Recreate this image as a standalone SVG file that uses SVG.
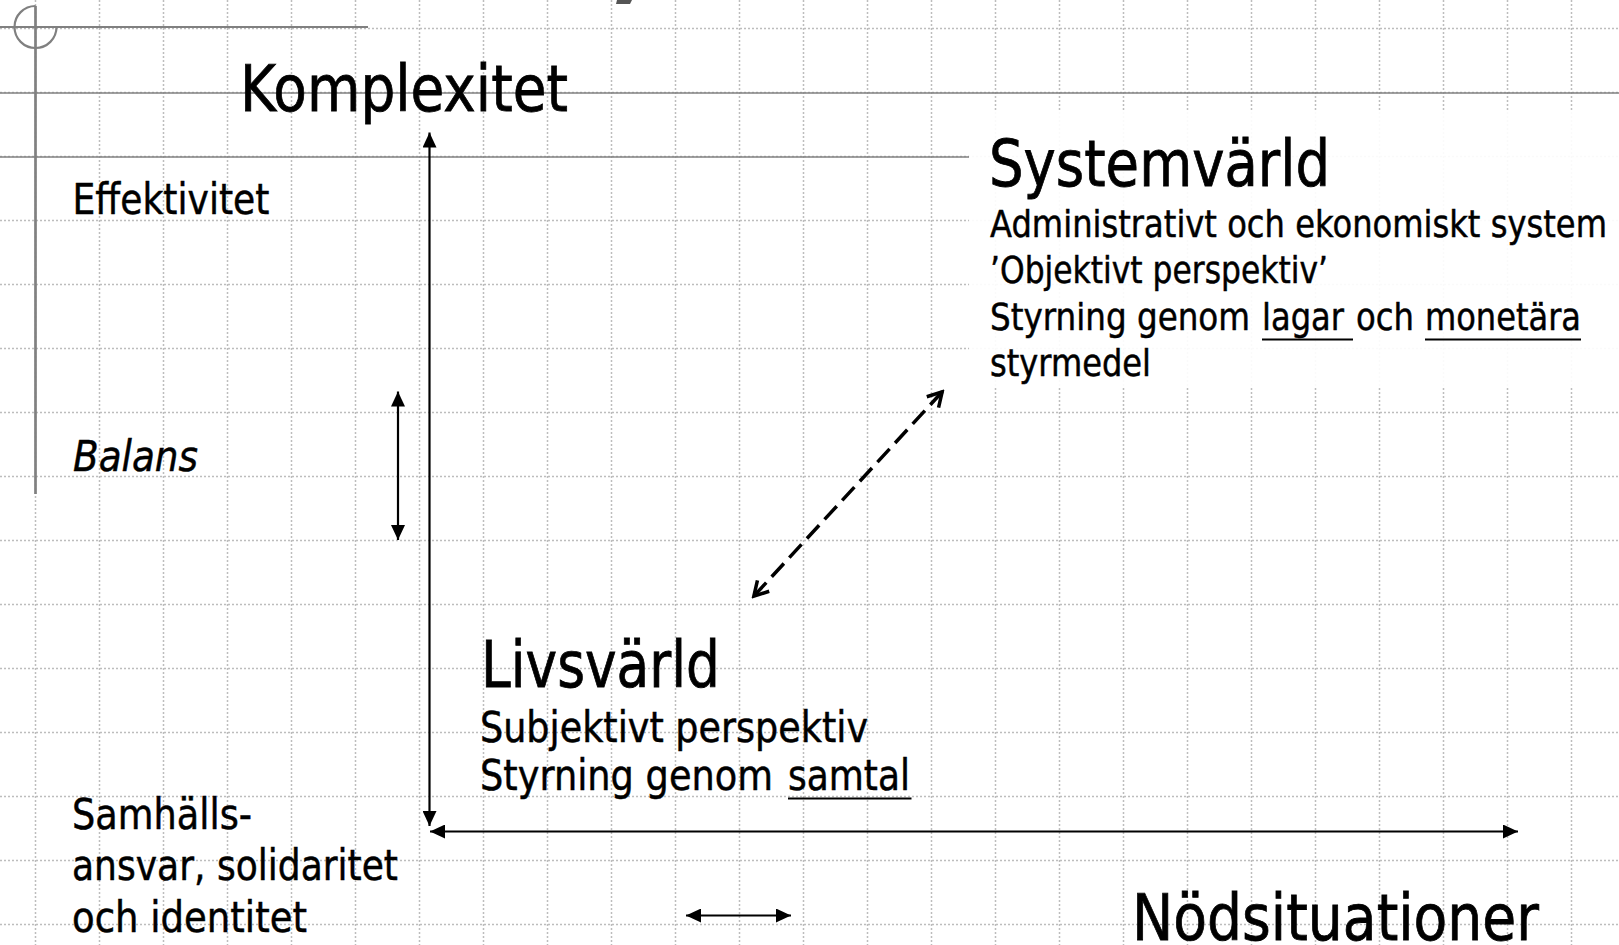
<svg xmlns="http://www.w3.org/2000/svg" width="1619" height="945" viewBox="0 0 1619 945">
<style>
  text { font-family: "DejaVu Sans", Verdana, sans-serif; fill: #000; stroke: #000; stroke-width: 0.5; }
  .t64 { font-size: 64px; stroke-width: 0.8; }
  .t43 { font-size: 42.7px; }
  .t42 { font-size: 42px; }
  .t37 { font-size: 37.3px; }
  .grid { fill: none; stroke: #bdbdbd; stroke-width: 1.5; stroke-dasharray: 2 2; }
  .tmpl { fill: none; stroke: #808080; }
  .arr { fill: none; stroke: #000; stroke-width: 2.2; }
  .ul { stroke: #000; stroke-width: 2.2; }
</style>
<defs>
  <marker id="ah" viewBox="0 0 15 14" refX="15" refY="7" markerWidth="15" markerHeight="14" markerUnits="userSpaceOnUse" orient="auto-start-reverse">
    <path d="M0,0 L15,7 L0,14 z" fill="#000"/>
  </marker>
  <marker id="oa" viewBox="0 0 20 20" refX="17.5" refY="10" markerWidth="20" markerHeight="20" markerUnits="userSpaceOnUse" orient="auto-start-reverse">
    <path d="M3,2 L17,10 L3,18" fill="none" stroke="#000" stroke-width="3.5"/>
  </marker>
</defs>
<rect width="1619" height="945" fill="#fff"/>
<g id="background">
  <path class="grid" d="M35.5,0V945 M99.5,0V945 M163.5,0V945 M227.5,0V945 M291.5,0V945 M355.5,0V945 M419.5,0V945 M483.5,0V945 M547.5,0V945 M611.5,0V945 M675.5,0V945 M739.5,0V945 M803.5,0V945 M867.5,0V945 M931.5,0V945 M995.5,0V945 M1059.5,0V945 M1123.5,0V945 M1187.5,0V945 M1251.5,0V945 M1315.5,0V945 M1379.5,0V945 M1443.5,0V945 M1507.5,0V945 M1571.5,0V945 M0,28.5H1619 M0,92.5H1619 M0,156.5H1619 M0,220.5H1619 M0,284.5H1619 M0,348.5H1619 M0,412.5H1619 M0,476.5H1619 M0,540.5H1619 M0,604.5H1619 M0,668.5H1619 M0,732.5H1619 M0,796.5H1619 M0,860.5H1619 M0,924.5H1619"/>
  <line class="tmpl" x1="0" y1="93" x2="1619" y2="93" stroke-width="1.5"/>
  <line class="tmpl" x1="0" y1="157" x2="969" y2="157" stroke-width="1.5"/>
  <line class="tmpl" x1="0" y1="27" x2="368" y2="27" stroke-width="2.2"/>
  <line class="tmpl" x1="35.5" y1="6" x2="35.5" y2="494" stroke-width="2.7"/>
  <path class="tmpl" d="M35.5,6 A21,21 0 1 0 56.5,27" stroke-width="2.2"/>
  <polygon points="617,0 632,0 630,4 616,4" fill="#555"/>
  <rect x="969" y="110" width="650" height="278" fill="#fff" fill-opacity="0.92"/>
</g>
<g id="connectors">
  <line class="arr" x1="429.5" y1="132.5" x2="429.5" y2="826" marker-start="url(#ah)" marker-end="url(#ah)"/>
  <line class="arr" x1="430" y1="831.5" x2="1518" y2="831.5" marker-start="url(#ah)" marker-end="url(#ah)"/>
  <line class="arr" x1="398" y1="391.5" x2="398" y2="540" marker-start="url(#ah)" marker-end="url(#ah)"/>
  <line class="arr" x1="686" y1="915.5" x2="791" y2="915.5" marker-start="url(#ah)" marker-end="url(#ah)"/>
  <line x1="942.5" y1="391.5" x2="753.5" y2="596.5" stroke="#000" stroke-width="3.5" stroke-dasharray="18 8" marker-start="url(#oa)" marker-end="url(#oa)"/>
</g>
<g id="komplexitet">
  <text class="t64" x="240" y="111" textLength="328" lengthAdjust="spacingAndGlyphs">Komplexitet</text>
</g>
<g id="effektivitet">
  <text class="t43" x="72.5" y="214" textLength="197" lengthAdjust="spacingAndGlyphs">Effektivitet</text>
</g>
<g id="balans">
  <text class="t43" x="73" y="470.5" font-style="italic" textLength="125" lengthAdjust="spacingAndGlyphs">Balans</text>
</g>
<g id="samhallsansvar">
  <text class="t43" x="72" y="828.5" textLength="180" lengthAdjust="spacingAndGlyphs">Samhälls-</text>
  <text class="t43" x="72" y="880" textLength="326" lengthAdjust="spacingAndGlyphs">ansvar, solidaritet</text>
  <text class="t43" x="72" y="931.5" textLength="235" lengthAdjust="spacingAndGlyphs">och identitet</text>
</g>
<g id="systemvarld">
  <text class="t64" x="989" y="186" textLength="341" lengthAdjust="spacingAndGlyphs">Systemvärld</text>
  <text class="t37" x="990" y="236.5" textLength="617" lengthAdjust="spacingAndGlyphs">Administrativt och ekonomiskt system</text>
  <text class="t37" x="990" y="283" textLength="338" lengthAdjust="spacingAndGlyphs">’Objektivt perspektiv’</text>
  <text class="t37" y="330"><tspan x="990" textLength="260" lengthAdjust="spacingAndGlyphs">Styrning genom</tspan><tspan x="1262" textLength="82" lengthAdjust="spacingAndGlyphs">lagar</tspan><tspan x="1356" textLength="58" lengthAdjust="spacingAndGlyphs">och</tspan><tspan x="1425" textLength="156" lengthAdjust="spacingAndGlyphs">monetära</tspan></text>
  <line class="ul" x1="1262" y1="339.5" x2="1353" y2="339.5"/>
  <line class="ul" x1="1425" y1="339.5" x2="1581" y2="339.5"/>
  <text class="t37" x="990" y="376" textLength="161" lengthAdjust="spacingAndGlyphs">styrmedel</text>
</g>
<g id="livsvarld">
  <text class="t64" x="481" y="687" textLength="239" lengthAdjust="spacingAndGlyphs">Livsvärld</text>
  <text class="t42" x="480" y="742" textLength="388" lengthAdjust="spacingAndGlyphs">Subjektivt perspektiv</text>
  <text class="t42" y="790"><tspan x="480" textLength="293" lengthAdjust="spacingAndGlyphs">Styrning genom</tspan><tspan x="788" textLength="122" lengthAdjust="spacingAndGlyphs">samtal</tspan></text>
  <line class="ul" x1="788" y1="798.5" x2="911.5" y2="798.5"/>
</g>
<g id="nodsituationer">
  <text class="t64" x="1132" y="939.5" textLength="407" lengthAdjust="spacingAndGlyphs">Nödsituationer</text>
</g>
</svg>
